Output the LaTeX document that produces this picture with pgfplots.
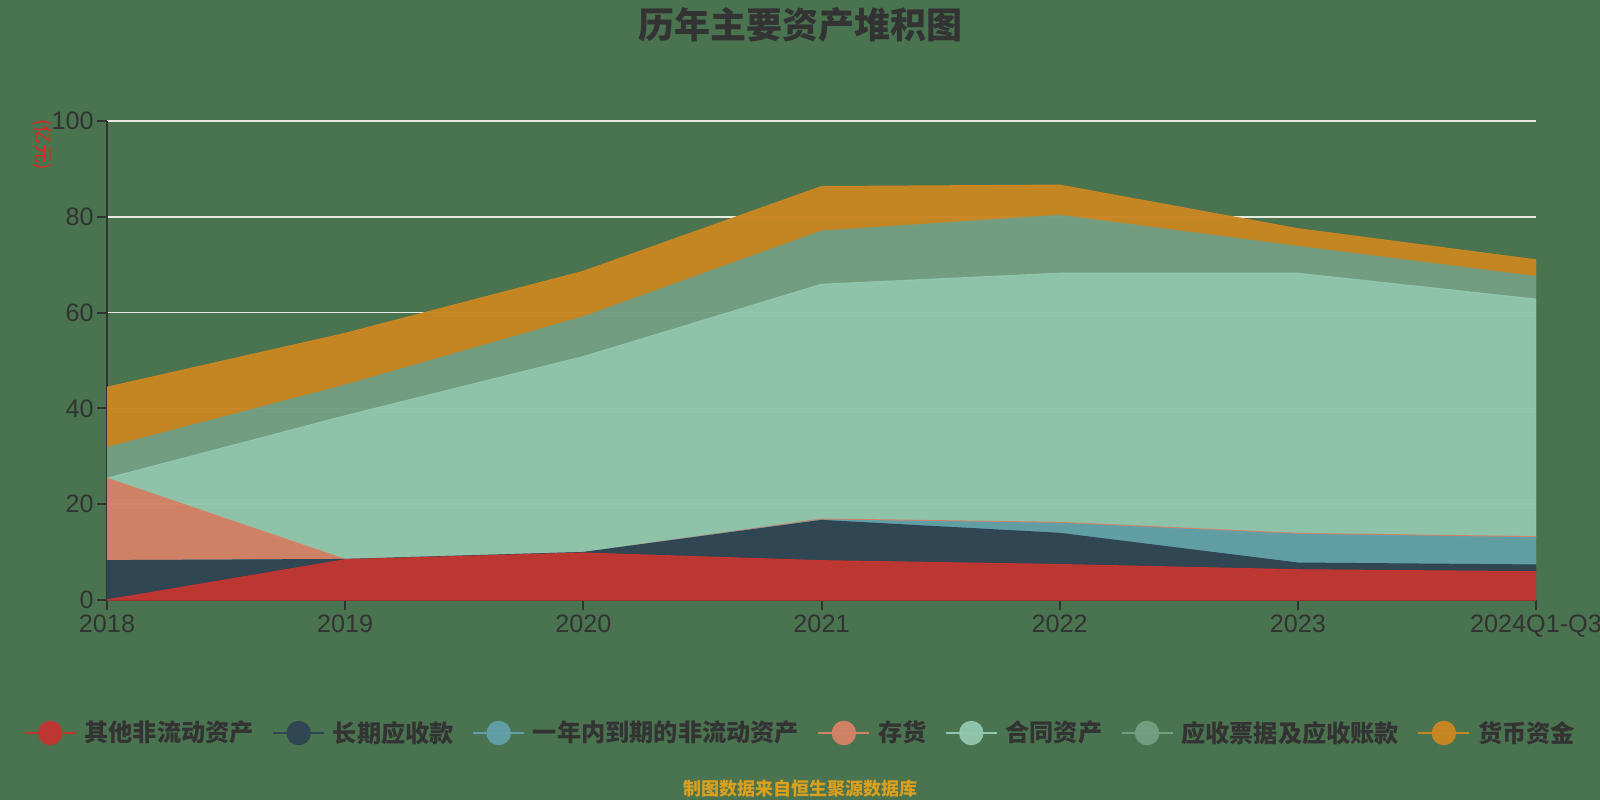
\documentclass[border=0pt]{standalone}
\usepackage{pgfplots}
\usepackage{pgfplotstable}
\pgfplotsset{compat=1.18}
\usepackage{fontspec}
\setmainfont{Noto Sans CJK SC}
\newfontfamily\numfont{Liberation Sans}

\definecolor{bg}{HTML}{4A7350}
\definecolor{txt}{HTML}{333333}
\definecolor{gridc}{HTML}{E6EADF}
\definecolor{ylab}{HTML}{E8241E}
\definecolor{src}{HTML}{D9A020}
\definecolor{c1}{HTML}{C23531}
\definecolor{c2}{HTML}{2F4554}
\definecolor{c3}{HTML}{61A0A8}
\definecolor{c4}{HTML}{D48265}
\definecolor{c5}{HTML}{91C7AE}
\definecolor{c6}{HTML}{749F83}
\definecolor{c7}{HTML}{CA8622}

% stacked values, 2018 .. 2024Q1-Q3
\pgfplotstableread{
x  other navy  due  inv   contract recv  cash
0  0.0   8.2   0.0  17.2  0.0      6.4   12.6
1  8.4   0.05  0.0  0.0   30.0     6.4   10.8
2  9.8   0.1   0.0  0.0   40.9     8.3   9.5
3  8.2   8.4   0.1  0.2   49.0     11.1  9.3
4  7.4   6.5   2.1  0.2   52.0     12.1  6.3
5  6.3   1.4   6.0  0.2   54.3     5.6   3.7
6  5.9   1.4   5.7  0.2   49.6     4.7   3.5
}\assets

\pgfplotsset{
  legimg/.style={legend image code/.code={
    \draw[#1,line width=0.7pt] (0pt,0pt) -- (25.5pt,0pt);
    \fill[#1] (12.75pt,0pt) circle (5.8pt);}},
  area/.style={draw=#1,fill=#1,fill opacity=0.96,line width=0.6pt,legimg=#1},
}

\begin{document}
\begin{tikzpicture}
\fill[bg] (0,0) rectangle (800pt,400pt);
\useasboundingbox (0,0) rectangle (800pt,400pt);
\node[font=\bfseries\fontsize{18}{20}\selectfont,text=txt] at (400pt,387.5pt) {历年主要资产堆积图};
\node[rotate=-90,font=\fontsize{9.5}{10}\selectfont,text=ylab] at (21.5pt,327.5pt) {(亿元)};
\node[font=\bfseries\fontsize{9}{10}\selectfont,text=src] at (400pt,5.5pt) {制图数据来自恒生聚源数据库};
\begin{axis}[
  at={(53.5pt,100pt)},anchor=south west,scale only axis,
  width=714.5pt,height=239.5pt,
  xmin=0,xmax=6,ymin=0,ymax=100,
  xtick={0,...,6},
  xticklabels={2018,2019,2020,2021,2022,2023,2024Q1-Q3},
  ytick={0,20,...,100},
  axis x line*=bottom,axis y line*=left,
  axis line style={line width=1pt,color=txt},
  tick align=outside,major tick length=5pt,
  tick style={line width=1pt,color=txt},
  ymajorgrids,grid style={line width=0.8pt,color=gridc},
  ticklabel style={font=\numfont\fontsize{12.6}{14}\selectfont,text=txt},
  xticklabel style={inner ysep=2pt},
  yticklabel style={inner xsep=1.5pt},
  /pgf/number format/assume math mode=true,
  stack plots=y,
  legend columns=-1,
  legend style={at={(0.4846,-0.2777)},anchor=center,draw=none,fill=none,
    font=\bfseries\fontsize{12.1}{14}\selectfont,text=txt,
    nodes={inner sep=0pt},cells={anchor=west},inner sep=0pt,
    /tikz/every odd column/.append style={column sep=4pt},
    /tikz/every even column/.append style={column sep=9.3pt}},
]
\addplot[area=c1] table[x=x,y=other] {\assets} \closedcycle;
\addlegendentry{其他非流动资产}
\addplot[area=c2] table[x=x,y=navy] {\assets} \closedcycle;
\addlegendentry{长期应收款}
\addplot[area=c3] table[x=x,y=due] {\assets} \closedcycle;
\addlegendentry{一年内到期的非流动资产}
\addplot[area=c4] table[x=x,y=inv] {\assets} \closedcycle;
\addlegendentry{存货}
\addplot[area=c5] table[x=x,y=contract] {\assets} \closedcycle;
\addlegendentry{合同资产}
\addplot[area=c6] table[x=x,y=recv] {\assets} \closedcycle;
\addlegendentry{应收票据及应收账款}
\addplot[area=c7] table[x=x,y=cash] {\assets} \closedcycle;
\addlegendentry{货币资金}
\end{axis}
\end{tikzpicture}
\end{document}
